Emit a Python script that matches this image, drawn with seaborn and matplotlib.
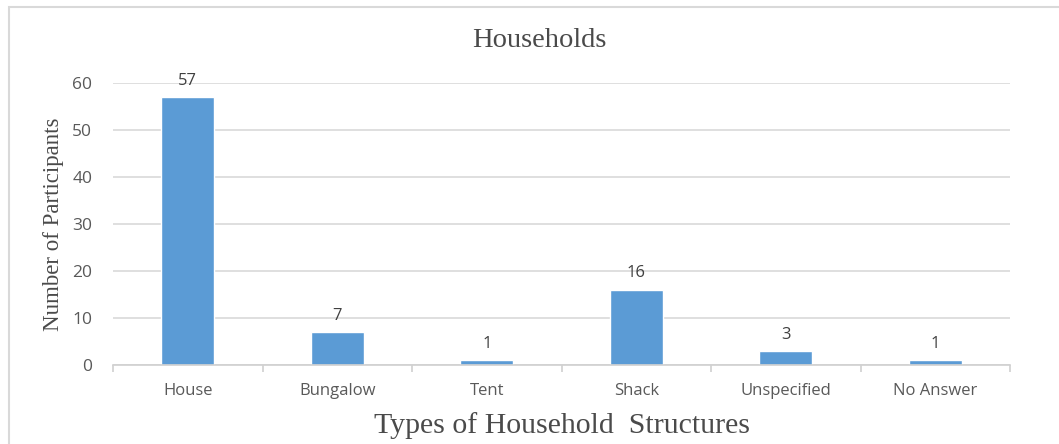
import matplotlib
matplotlib.use("Agg")
import matplotlib.pyplot as plt
from matplotlib.patches import Rectangle
import seaborn as sns
import pandas as pd

categories = ["House", "Bungalow", "Tent", "Shack", "Unspecified", "No Answer"]
participants = [57, 7, 1, 16, 3, 1]
y_ticks = [0, 10, 20, 30, 40, 50, 60]

sns.set_theme(style="white")
plt.rcParams["font.family"] = ["Open Sans", "DejaVu Sans"]

df = pd.DataFrame({"structure": categories, "count": participants})

fig = plt.figure(figsize=(10.59, 4.44), dpi=100)
ax = fig.add_axes([113 / 1059, 1 - 365 / 444, (1010 - 113) / 1059, (365 - 83) / 444])

bar_color = "#5B9BD5"
sns.barplot(data=df, x="structure", y="count", color=bar_color, width=0.355,
            saturation=1, ax=ax)

ax.set_ylim(0, 60)
ax.set_xlim(-0.5, len(categories) - 0.5)
ax.set_yticks(y_ticks)
ax.yaxis.grid(True, color="#d9d9d9", linewidth=1.2)
ax.set_axisbelow(True)
for side in ["top", "right", "left"]:
    ax.spines[side].set_visible(False)
ax.spines["bottom"].set_color("#d0d0d0")
ax.spines["bottom"].set_linewidth(1.2)

# category ticks sit on the boundaries between groups
ax.set_xticks([i - 0.5 for i in range(len(categories) + 1)], minor=True)
ax.tick_params(axis="x", which="minor", length=5, color="#d0d0d0", width=1.2,
               direction="out", bottom=True)
ax.tick_params(axis="x", which="major", length=0, pad=13,
               labelsize=12, labelcolor="#595959")
ax.tick_params(axis="y", length=0, pad=15, labelsize=12.5, labelcolor="#595959")

for i, v in enumerate(participants):
    ax.annotate(str(v), (i, v), xytext=(0, 6), textcoords="offset points",
                ha="center", va="bottom", fontsize=12, color="#404040")

serif = ["Liberation Serif", "DejaVu Serif"]
ax.set_xlabel("Types of Household  Structures", family=serif, fontsize=21.5,
              color="#4a4a4a", labelpad=9)
ax.set_ylabel("Number of Participants", family=serif, fontsize=16.5,
              color="#4a4a4a", labelpad=6)
fig.text(539 / 1059, 1 - 47 / 444, "Households", family=serif, fontsize=20.5,
         color="#4a4a4a", ha="center", va="baseline")

# chart frame
fig.patches.append(Rectangle((9 / 1059, -0.1), 1.2, 1 - 7 / 444 + 0.1,
                             transform=fig.transFigure, fill=False,
                             edgecolor="#d9d9d9", linewidth=1.5, zorder=0))

fig.savefig("out.png", dpi=100, facecolor="white")
